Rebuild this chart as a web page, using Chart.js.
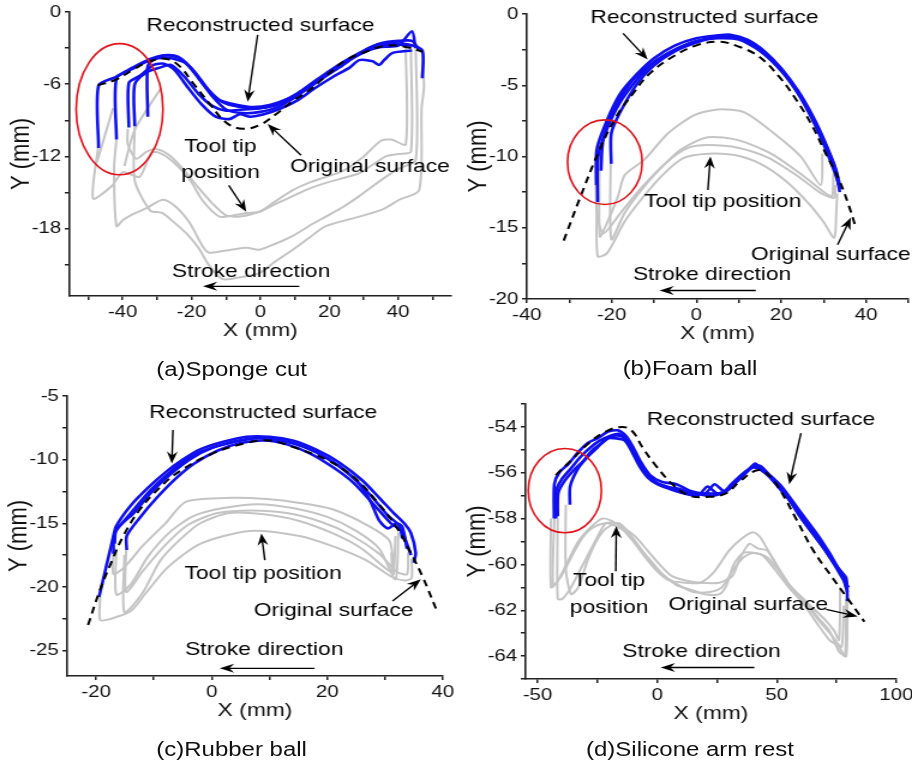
<!DOCTYPE html>
<html>
<head>
<meta charset="utf-8">
<script src="https://cdn.jsdelivr.net/npm/chart.js@4.4.0/dist/chart.umd.min.js"></script>
<style>
  html, body { margin: 0; padding: 0; background: #fff; overflow: hidden; }
  /* the source figure is stretched sideways, so the whole sheet is too */
  #fig { position: absolute; left: 0; top: 0; width: 760px; height: 767px;
         transform: scaleX(1.2); transform-origin: 0 0; }
  #fig canvas { position: absolute; }
  .cap { position: absolute; width: 300px; text-align: center; color: #111;
         font: 20px 'Liberation Sans', Arial, sans-serif; }
</style>
</head>
<body>
<div id="fig">
  <canvas id="chartA"></canvas>
  <canvas id="chartB"></canvas>
  <canvas id="chartC"></canvas>
  <canvas id="chartD"></canvas>
  <div class="cap" style="left:43px;top:358px">(a)Sponge cut</div>
  <div class="cap" style="left:425px;top:357px">(b)Foam ball</div>
  <div class="cap" style="left:43px;top:738px">(c)Rubber ball</div>
  <div class="cap" style="left:425px;top:738px">(d)Silicone arm rest</div>
</div>
<script>
// ── (a) Sponge cut ────────────────────────────────────────────
const spongeOriginal = [[-47.2,-6.1],[-41.8,-5.6],[-37,-4.8],[-32.2,-4.1],[-27.3,-3.9],[-23.5,-4.5],[-19.6,-5.9],[-14.8,-7.6],[-9.9,-9.2],[-5.1,-9.7],[-0.3,-9.4],[4.5,-8.5],[9.4,-7.4],[14.2,-6.5],[19.5,-5.2],[24.8,-4.0],[30.6,-3.3],[36.4,-2.8],[42.2,-2.9],[47,-3.3]];
const spongeRecon = [
  [[-47,-11.3],[-47,-6.1],[-42,-5.4],[-37,-4.6],[-32,-3.9],[-28,-3.6],[-24,-3.7],[-20,-4.7],[-16,-6.2],[-12,-7.3],[-7,-7.7],[-2,-7.9],[3,-7.7],[8,-7.2],[13,-6.4],[18,-5.5],[23,-4.6],[28,-3.6],[33,-2.8],[38,-2.6],[43,-2.7],[47,-3.2],[47,-5.5]],
  [[-41.8,-10.6],[-41.8,-5.5],[-37,-4.7],[-32,-4.0],[-27,-3.8],[-22,-4.2],[-18,-5.5],[-14,-7.0],[-10,-8.1],[-5,-8.4],[0,-8.3],[5,-7.9],[10,-7.1],[15,-6.1],[20,-5.1],[25,-4.1],[30,-3.3],[35,-2.9],[40,-2.8],[44,-1.6],[45,-3.0]],
  [[-38.2,-9.6],[-38.2,-5.9],[-35,-5.3],[-31,-4.4],[-28,-4.3],[-25,-4.8],[-21,-6.3],[-17,-7.7],[-13,-8.7],[-9,-8.9],[-6,-8.5],[-3,-8.7],[1,-8.5],[6,-8.0],[11,-7.3],[16,-6.3],[21,-5.4],[26,-4.6],[28.7,-4.0],[32.6,-4.1],[34.5,-4.4],[35.9,-4.0],[38.4,-3.4],[44,-3.2]],
  [[-36.5,-9.5],[-36.5,-6.0],[-33,-5.0],[-29,-4.6],[-26,-4.4],[-22,-5.4],[-18,-6.8],[-14,-7.8],[-10,-8.2],[-5,-8.1],[0,-8.0],[5,-7.6],[10,-6.9],[15,-5.9],[20,-4.9],[25,-4.0],[30,-3.2],[35,-2.6],[40,-2.4],[44,-2.4],[46,-3.1]],
  [[-32.7,-8.7],[-32.7,-4.5],[-30,-3.8],[-27,-3.6],[-23,-3.9],[-19,-5.0],[-15,-6.5],[-11,-7.5],[-6,-7.9],[-1,-8.0],[4,-7.8],[9,-7.2],[14,-6.2],[19,-5.2],[24,-4.3],[29,-3.5],[34,-2.9],[39,-2.7],[44,-2.8]],
];
const spongeTip = [
  [[42.2,-2.9],[42.2,-11.0],[38,-10.6],[35,-10.7],[30,-12.0],[24,-13.2],[19,-13.7],[14,-14.2],[9.4,-14.8],[4,-15.8],[-0.3,-16.6],[-4.1,-16.7],[-8,-16.9],[-11.9,-17.0],[-16.7,-15.7],[-20.6,-13.9],[-25.5,-12.4],[-29.3,-11.7],[-31.7,-11.7],[-35.1,-13.7],[-39.9,-13.3],[-43.3,-14.5],[-48.6,-15.5],[-47.1,-11.2]],
  [[43.7,-2.9],[43.7,-11.6],[40,-11.8],[36.4,-12.0],[32,-12.8],[28.7,-13.4],[24,-13.8],[19,-14.2],[14,-14.7],[9.4,-15.3],[4,-16.0],[-0.3,-16.6],[-6,-17.0],[-10,-16.9],[-14,-15.9],[-18,-14.6],[-22,-13.2],[-26,-12.0],[-30,-11.4],[-33,-11.6],[-36,-12.2],[-38.5,-11.0],[-38.5,-9.7]],
  [[45.1,-2.9],[45.1,-12.3],[40.3,-13.0],[36.4,-13.7],[32,-14.6],[28.7,-15.3],[24,-16.2],[19,-17.0],[14,-17.8],[9.4,-18.6],[4,-19.3],[-0.3,-19.75],[-4,-19.6],[-8.5,-19.75],[-14.8,-20.0],[-16.7,-19.5],[-20.6,-17.5],[-24.5,-16.2],[-28.3,-15.6],[-33.1,-16.3],[-37,-16.8],[-40,-17.3],[-41.8,-17.8],[-42.5,-13],[-41.8,-10.6]],
  [[47,-3.3],[47.5,-6.2],[46.8,-8],[46.1,-14.8],[40.3,-15.6],[35.5,-16.4],[28.7,-17.0],[19,-17.8],[14,-18.8],[9.4,-19.75],[4,-20.8],[-0.3,-21.7],[-5,-22.0],[-10.9,-22.2],[-14.8,-21.1],[-18,-19.6],[-21.5,-18.4],[-25,-17.5],[-28.6,-16.7],[-32,-16.5],[-36.5,-14],[-36.5,-9.5]],
  [[-39.5,-12.8],[-36.5,-9.8],[-28.8,-6.3]],
  [[-47.5,-12.5],[-42.8,-8.0]],
];

// ── (b) Foam ball ─────────────────────────────────────────────
const foamOriginal = [[-31.3,-15.9],[-26.8,-12.4],[-22.8,-9.5],[-18.9,-7.2],[-15,-5.6],[-11.1,-4.2],[-5.6,-3.0],[0,-2.2],[5.4,-1.95],[10.1,-2.3],[14.8,-3.0],[19.5,-4.4],[23.5,-6.0],[27.4,-7.9],[30.5,-9.8],[33.6,-11.6],[36,-13.5],[37.5,-14.9]];
const foamRecon = [
  [[-23.6,-12.0],[-23.5,-9.5],[-21,-7.4],[-18,-5.6],[-14,-4.2],[-10,-3.1],[-5,-2.2],[0,-1.7],[5,-1.5],[8,-1.45],[12,-1.8],[16,-2.6],[20,-3.8],[24,-5.4],[27.5,-7.2],[30.5,-9.1],[33,-11.0],[34,-12.3]],
  [[-23.3,-13.2],[-23.2,-10.0],[-21,-8.0],[-18,-6.2],[-14,-4.6],[-10,-3.4],[-5,-2.5],[0,-1.9],[5,-1.7],[10,-1.8],[15,-2.6],[20,-4.0],[24,-5.6],[27.5,-7.5],[30.5,-9.5],[33.3,-11.7],[33.8,-12.5]],
  [[-20.1,-10.5],[-20.1,-8.4],[-18,-6.9],[-14,-4.9],[-10,-3.6],[-5,-2.6],[0,-2.0],[5,-1.6],[10,-1.7],[15,-2.5],[20,-3.9],[24,-5.5],[27.5,-7.4],[30.5,-9.3],[32.5,-10.6],[33.5,-12.0]],
  [[-22.5,-11.0],[-22,-8.8],[-19.5,-6.8],[-16,-5.0],[-12,-3.8],[-7,-2.8],[-2,-2.1],[3,-1.7],[8,-1.6],[13,-2.1],[18,-3.3],[22,-4.7],[26,-6.5],[29.5,-8.5],[32,-10.3],[33,-11.3]],
];
const foamTip = [
  [[-22.8,-9.5],[-22.8,-15.6],[-21,-14.6],[-18.5,-12.8],[-16.9,-11.3],[-12.2,-10.2],[-6.8,-8.4],[-0.5,-7.1],[5,-6.7],[11.3,-6.9],[18.4,-8.4],[24.6,-10.0],[29.3,-12.0],[29.7,-9.8]],
  [[-20.1,-8.4],[-20.1,-15.8],[-17,-14.0],[-12,-12.0],[-7,-10.4],[-3.6,-9.5],[2.7,-8.65],[9.8,-8.85],[17.6,-9.8],[25.4,-11.4],[30.1,-12.5],[32,-12.8],[32.3,-11.2]],
  [[-23.6,-10],[-23.6,-13.6],[-22,-15.4],[-18,-14.0],[-13,-12.2],[-7,-10.4],[-2,-9.4],[2.7,-9.2],[10,-9.4],[17,-10.1],[24,-11.4],[29.5,-12.6],[32.5,-12.9],[32.7,-12.0]],
  [[-23.5,-13.0],[-23.3,-17.0],[-21.1,-16.8],[-17,-14.6],[-13,-13.0],[-8,-11.3],[-3,-10.1],[2.7,-9.8],[9,-9.9],[15,-10.5],[21,-11.7],[26.5,-13.3],[30,-14.6],[32.5,-15.7],[33,-13.8],[33.2,-12.6]],
];

// ── (c) Rubber ball ───────────────────────────────────────────
const rubberOriginal = [[-21.4,-23.0],[-19.3,-20.2],[-17.3,-18.0],[-15.3,-16.0],[-12.4,-13.9],[-9,-12.2],[-5.5,-10.9],[0.2,-9.5],[6,-8.7],[10,-8.5],[14,-9.0],[19.8,-10.0],[24.4,-11.3],[28.4,-13.2],[31.9,-15.25],[34.2,-17.1],[36.5,-19.2],[38.8,-21.7]];
const rubberRecon = [
  [[-19.5,-20.8],[-18.3,-18.5],[-17,-16.0],[-16.5,-15.2],[-14,-13.6],[-11,-12.2],[-8,-11.0],[-5,-10.0],[-2,-9.2],[2,-8.6],[6,-8.2],[10,-8.2],[14,-8.5],[18,-9.2],[22,-10.2],[26,-11.6],[29,-13.0],[31.5,-14.2],[33.5,-15.1],[34.5,-15.8],[35.3,-17.3],[35,-18.1]],
  [[-17,-17.4],[-16.8,-15.8],[-14,-14.2],[-11,-12.6],[-8,-11.3],[-5,-10.2],[-2,-9.4],[2,-8.8],[6,-8.4],[10,-8.35],[14,-8.7],[18,-9.4],[22,-10.5],[25.5,-11.9],[27.5,-13.3],[29,-14.8],[30.5,-15.4],[32,-15.0],[33,-15.3],[33.8,-17.0]],
  [[-16.8,-16.6],[-16.5,-15.5],[-13.5,-14.2],[-10.5,-12.6],[-7,-11.1],[-3.5,-9.9],[0,-9.1],[4,-8.6],[8,-8.3],[12,-8.5],[16,-9.0],[20,-9.9],[24,-11.2],[27.5,-12.8],[30.5,-14.4],[32.5,-15.2],[33,-16.2]],
  [[-14.7,-17.1],[-14.7,-16.0],[-12.5,-14.6],[-9.5,-13.0],[-6,-11.4],[-3,-10.3],[1,-9.3],[5,-8.7],[9,-8.5],[13,-8.8],[17,-9.5],[21,-10.6],[24.5,-11.8],[28,-13.5],[31,-15.0],[32.8,-15.6],[34.5,-17.5]],
];
const rubberTip = [
  [[-17,-17.2],[-17,-19.0],[-15,-18.4],[-12,-16.8],[-8,-15.0],[-4.4,-13.3],[3.7,-13.0],[9.5,-13.1],[15.2,-13.4],[20.9,-13.9],[26.7,-15.1],[30.8,-16.4],[31.5,-19.0],[31.8,-16.0]],
  [[-16.5,-17.0],[-16.5,-20.6],[-14,-19.8],[-11,-17.6],[-7,-15.6],[-3,-14.4],[2,-13.8],[8,-13.5],[14,-13.8],[20,-14.5],[25,-15.6],[29,-17.0],[31.8,-19.4],[32.3,-15.7]],
  [[-14.8,-17.1],[-14.8,-20.4],[-12,-18.8],[-8,-16.7],[-4,-15.1],[1,-14.2],[7,-14.0],[13,-14.2],[19,-14.9],[24,-15.9],[29,-17.4],[32,-18.8],[33.8,-19.0],[34,-17.3]],
  [[-19.3,-20.8],[-19.3,-22.6],[-17.4,-22.5],[-14,-21.9],[-11.6,-20.6],[-7.7,-18.5],[-1.9,-16.6],[6.6,-15.6],[15.2,-16.0],[20.9,-16.8],[26.7,-17.9],[31.1,-19.2],[33.4,-19.5],[34.6,-19.3],[34.6,-17.8]],
  [[-15.1,-17.5],[-15.1,-22.0],[-12,-20.5],[-9,-18.0],[-6,-16.5],[-2,-15.0],[3,-14.2],[9,-14.3],[15,-14.8],[21,-15.8],[26,-17.0],[30,-18.5],[31.1,-18.8],[31.1,-17.3]],
];

// ── (d) Silicone arm rest ─────────────────────────────────────
const siliconeOriginal = [[-42.4,-56.1],[-35.4,-55.4],[-28.5,-54.7],[-21.5,-54.2],[-14.5,-54.0],[-10.3,-54.2],[-6.1,-54.9],[-0.5,-55.7],[6.4,-56.5],[13.4,-57.0],[21.8,-57.05],[28.7,-56.9],[34.3,-56.4],[41.3,-55.9],[45.5,-56.0],[51,-56.7],[58,-58.0],[65,-59.35],[72,-60.4],[79,-61.4],[86.6,-62.5]];
const siliconeRecon = [
  [[-43.1,-58.0],[-43,-56.5],[-41,-56.0],[-37,-55.6],[-33,-55.1],[-29,-54.7],[-25,-54.5],[-20.5,-54.2],[-16.5,-54.15],[-13,-54.4],[-10,-54.9],[-7,-55.5],[-3,-56.1],[2,-56.4],[8,-56.5],[14,-56.8],[20,-56.9],[24,-56.5],[28,-56.8],[32,-56.5],[36,-56.1],[40,-55.7],[43,-55.7],[47,-56.1],[52,-56.6],[57,-57.3],[62,-58.0],[67,-58.7],[72,-59.5],[76,-60.2],[79,-60.6],[79.5,-61.6]],
  [[-42.3,-58.0],[-42.2,-56.8],[-40,-56.3],[-36,-55.8],[-32,-55.3],[-28,-54.9],[-24,-54.6],[-20,-54.4],[-16,-54.3],[-12.5,-54.6],[-9.5,-55.2],[-6,-55.8],[-2,-56.3],[3,-56.6],[9,-56.7],[15,-56.9],[21,-56.9],[26,-56.9],[30,-56.7],[34,-56.3],[38,-55.9],[41,-55.6],[44,-55.9],[48,-56.2],[53,-56.8],[58,-57.5],[63,-58.3],[68,-59.0],[73,-59.8],[77,-60.4],[79.5,-61.2]],
  [[-41.6,-57.9],[-41.4,-56.9],[-39,-56.4],[-35,-55.9],[-31,-55.5],[-27,-55.0],[-23,-54.7],[-19,-54.4],[-15,-54.4],[-11.5,-54.8],[-8.5,-55.4],[-5,-56.0],[-1,-56.4],[4,-56.6],[10,-56.8],[16,-56.9],[22,-57.0],[27,-56.9],[31,-56.5],[35,-56.1],[39,-55.8],[42,-55.8],[45,-56.0],[49,-56.4],[54,-57.0],[59,-57.8],[64,-58.5],[69,-59.2],[74,-60.0],[78,-60.7],[80,-61.0]],
  [[-36.5,-57.4],[-36.4,-56.6],[-33,-55.8],[-29,-55.3],[-25,-54.9],[-21,-54.5],[-17,-54.5],[-13.5,-54.6],[-10.5,-55.1],[-7.5,-55.7],[-4,-56.2],[0,-56.5],[5,-56.7],[11,-56.9],[17,-57.0],[21,-56.6],[25,-56.9],[29,-56.8],[33,-56.4],[37,-56.0],[41,-55.7],[44,-55.8],[48,-56.3],[52,-56.8],[56,-57.3],[61,-58.1],[66,-58.8],[71,-59.5],[75,-60.1],[78,-60.5],[79,-61.0]],
];
const siliconeTip = [
  [[-44.4,-58.0],[-44.4,-61.0],[-42,-60.8],[-38,-60.0],[-33,-59.0],[-28,-58.4],[-23,-58.0],[-19,-58.1],[-15,-58.4],[-10,-59.0],[-5,-59.7],[0,-60.3],[5,-60.7],[12,-60.8],[18,-60.8],[24,-60.3],[30,-59.4],[35,-58.9],[40,-58.6],[43,-58.8],[48,-59.7],[53,-60.6],[58,-61.2],[64,-61.8],[70,-62.4],[74,-62.9],[76,-63.3],[76.5,-61.0]],
  [[-41.6,-58.0],[-41.6,-61.5],[-39.6,-61.5],[-36,-61.0],[-32,-60.2],[-28.5,-59.5],[-25,-58.8],[-21.5,-58.2],[-17.5,-58.2],[-14,-58.4],[-9,-58.8],[-4,-59.4],[1,-60.0],[6,-60.5],[12,-60.7],[18,-60.8],[26,-60.8],[31.5,-60.5],[34.3,-59.8],[38.5,-59.1],[42,-59.3],[46,-59.4],[51,-60.2],[56,-61.0],[62,-61.7],[68,-62.5],[73,-63.1],[77,-63.6],[78,-61.8]],
  [[-43,-58.0],[-43.5,-60.9],[-40,-60.5],[-35,-59.5],[-31,-58.8],[-27,-58.4],[-22,-58.2],[-18,-58.3],[-13,-58.6],[-8,-59.2],[-3,-59.8],[3,-60.5],[9,-60.9],[15,-61.2],[22,-61.2],[27,-61.0],[32,-60.2],[36,-59.7],[40,-59.5],[44,-59.6],[49,-60.2],[55,-61.0],[61,-61.7],[67,-62.6],[72,-63.3],[76,-63.6],[78.5,-64.0],[79,-61.5]],
  [[-38.2,-57.4],[-38.2,-60.2],[-36,-61.3],[-33,-61.0],[-29,-59.8],[-25,-58.9],[-21,-58.4],[-16,-58.2],[-12,-58.6],[-7,-59.3],[-2,-60.0],[3,-60.5],[8,-60.9],[14,-61.1],[20,-61.3],[26,-61.3],[29,-60.9],[32,-60.0],[36,-59.5],[41,-59.5],[46,-59.7],[51,-60.3],[56,-61.0],[62,-61.6],[67,-62.3],[72,-62.9],[76,-63.8],[79,-64.0],[79.5,-61.3]],
];

// ── Styling ───────────────────────────────────────────────────
const FONT = "'Liberation Sans', Arial, sans-serif";
const BLUE = '#1010ee';
const GRAY = '#c4c4c4';
const RED  = '#e3121b';
const AXIS_W = 56, AXIS_H = 46, PAD_T = 14, PAD_R = 18;

Chart.defaults.font.family = FONT;
Chart.defaults.color = '#111';

const toPts = arr => arr.map(([x, y]) => ({ x, y }));
const line = (pts, color, width, dash, tension) => ({
  data: toPts(pts), showLine: true, borderColor: color, borderWidth: width,
  borderDash: dash || [], pointRadius: 0, tension: tension ?? 0.25, fill: false,
});

// texts / arrows / ellipse placed in data units through the scales
const notesPlugin = (notes) => ({
  id: 'notes',
  afterDatasetsDraw(chart) {
    const { ctx, scales: { x, y } } = chart;
    const px = v => x.getPixelForValue(v);
    const py = v => y.getPixelForValue(v);
    ctx.save();
    if (notes.ellipse) {
      const [cx, cy, rx, ry] = notes.ellipse;
      ctx.beginPath();
      ctx.ellipse(px(cx), py(cy), Math.abs(px(cx + rx) - px(cx)), Math.abs(py(cy + ry) - py(cy)), 0, 0, Math.PI * 2);
      ctx.strokeStyle = RED;
      ctx.lineWidth = 1.6;
      ctx.stroke();
    }
    ctx.strokeStyle = '#000';
    ctx.fillStyle = '#000';
    notes.arrows.forEach(([x0, y0, x1, y1]) => {
      const a = [px(x0), py(y0)], b = [px(x1), py(y1)];
      const ang = Math.atan2(b[1] - a[1], b[0] - a[0]);
      const c = Math.cos(ang), s = Math.sin(ang);
      ctx.beginPath();
      ctx.moveTo(a[0], a[1]);
      ctx.lineTo(b[0] - 6 * c, b[1] - 6 * s);
      ctx.lineWidth = 1.4;
      ctx.stroke();
      ctx.beginPath();
      ctx.moveTo(b[0], b[1]);
      ctx.lineTo(b[0] - 12 * c + 4.5 * s, b[1] - 12 * s - 4.5 * c);
      ctx.lineTo(b[0] - 8 * c, b[1] - 8 * s);
      ctx.lineTo(b[0] - 12 * c - 4.5 * s, b[1] - 12 * s + 4.5 * c);
      ctx.closePath();
      ctx.fill();
    });
    ctx.font = '19px ' + FONT;
    ctx.textAlign = 'center';
    ctx.textBaseline = 'middle';
    notes.texts.forEach(([t, tx, ty]) => ctx.fillText(t, px(tx), py(ty)));
    ctx.restore();
  },
});

const axis = (min, max, step, major, title, isX) => ({
  type: 'linear', min, max,
  border: { display: true, color: '#222', width: 1.6 },
  grid: { display: true, drawOnChartArea: false, drawTicks: true, tickLength: 4, color: '#222', lineWidth: 1.5 },
  ticks: {
    stepSize: step, includeBounds: false, autoSkip: false, maxRotation: 0,
    padding: isX ? 2 : 3, color: '#111', font: { size: 17 },
    callback: v => (Math.abs(v % major) < 1e-9 ? String(v) : ''),
  },
  title: { display: true, text: title, color: '#111', font: { size: isX ? 19 : 22 },
           padding: isX ? 0 : { top: 3, bottom: 0 } },
  afterFit: s => { if (isX) s.height = AXIS_H; else s.width = AXIS_W; },
});

const plot = (id, area, xAxis, yAxis, original, recon, tip, notes) => {
  const cv = document.getElementById(id);
  const left = area.left - AXIS_W, top = area.top - PAD_T;
  cv.width = Math.round(area.right + PAD_R - left);
  cv.height = Math.round(area.bottom + AXIS_H - top);
  cv.style.left = left + 'px';
  cv.style.top = top + 'px';
  const datasets = [
    line(original, '#000', 2, [7, 5], 0.4),
    ...recon.map(p => line(p, BLUE, 2.6)),
    ...tip.map(p => line(p, GRAY, 2)),
  ];
  return new Chart(cv, {
    type: 'scatter',
    data: { datasets },
    options: {
      responsive: false, animation: false, devicePixelRatio: 1, events: [],
      layout: { padding: { top: PAD_T, right: PAD_R, bottom: 0, left: 0 } },
      plugins: { legend: { display: false }, tooltip: { enabled: false } },
      scales: { x: xAxis, y: yAxis },
    },
    plugins: [notesPlugin(notes)],
  });
};

plot('chartA', { left: 58.3, right: 376.7, top: 12, bottom: 296 },
  axis(-55.4, 55.4, 10, 20, 'X (mm)', true), axis(-23.6, 0, 3, 6, 'Y (mm)', false),
  spongeOriginal, spongeRecon, spongeTip, {
    texts: [['Reconstructed surface', 0, -1.16], ['Original surface', 31.8, -12.9],
            ['Tool tip', -11.6, -11.2], ['position', -11.6, -13.4], ['Stroke direction', -2.7, -21.55]],
    arrows: [[-0.8, -1.9, -3.7, -7.45], [11.8, -11.9, 2.1, -9.3], [-9.2, -14.4, -4.1, -16.6], [11.3, -22.8, -16.7, -22.8]],
    ellipse: [-40.9, -8.08, 12.6, 5.45],
  });

plot('chartB', { left: 439.2, right: 756.7, top: 14, bottom: 299 },
  axis(-40, 50, 10, 20, 'X (mm)', true), axis(-20, 0, 2.5, 5, 'Y (mm)', false),
  foamOriginal, foamRecon, foamTip, {
    texts: [['Reconstructed surface', 1.9, -0.23], ['Tool tip position', 6.2, -13.2],
            ['Original surface', 31.7, -16.9], ['Stroke direction', 3.7, -18.3]],
    arrows: [[-17.3, -1.36, -11.5, -3.2], [2.7, -12.35, 3.3, -10.0], [33.3, -16.2, 36.4, -14.3], [14, -19.4, -8.7, -19.4]],
    ellipse: [-21.6, -10.4, 8.8, 2.97],
  });

plot('chartC', { left: 55.8, right: 369.2, top: 396, bottom: 676 },
  axis(-25, 40, 10, 20, 'X (mm)', true), axis(-27, -5, 2.5, 5, 'Y (mm)', false),
  rubberOriginal, rubberRecon, rubberTip, {
    texts: [['Reconstructed surface', 8.9, -6.28], ['Tool tip position', 8.9, -19.0],
            ['Original surface', 21.1, -21.9], ['Stroke direction', 9.1, -24.9]],
    arrows: [[-6.7, -7.67, -6.9, -10.3], [9.2, -17.9, 8.6, -15.8], [31.3, -21.1, 36.2, -19.4], [17.8, -26.4, 1.4, -26.4]],
  });

plot('chartD', { left: 438.3, right: 747.5, top: 404, bottom: 679 },
  axis(-55, 100, 25, 50, 'X (mm)', true), axis(-65, -53, 1, 2, 'Y (mm)', false),
  siliconeOriginal, siliconeRecon, siliconeTip, {
    texts: [['Reconstructed surface', 43.4, -53.67], ['Tool tip', -20.1, -60.7], ['position', -20.1, -61.9],
            ['Original surface', 38.1, -61.74], ['Stroke direction', 18.5, -63.8]],
    arrows: [[60.1, -54.27, 55.2, -56.5], [-17.3, -60.3, -17.1, -58.33], [70.6, -61.96, 83.8, -62.27], [40.6, -64.5, 1.5, -64.5]],
    ellipse: [-38.6, -56.78, 15.3, 1.84],
  });
</script>
</body>
</html>
